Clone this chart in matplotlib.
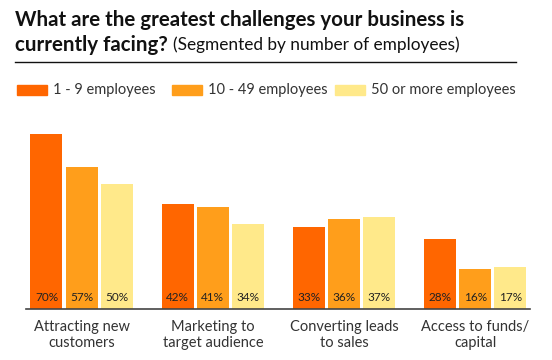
import matplotlib.pyplot as plt
from matplotlib.patches import Rectangle
import numpy as np

categories = ['Attracting new\ncustomers', 'Marketing to\ntarget audience',
              'Converting leads\nto sales', 'Access to funds/\ncapital']
series_names = ['1 - 9 employees', '10 - 49 employees', '50 or more employees']
small = [70, 42, 33, 28]
medium = [57, 41, 36, 16]
large = [50, 34, 37, 17]
colors = ['#FF6600', '#FF9E1B', '#FFE98A']

plt.rcParams['font.family'] = ['Lato', 'DejaVu Sans']

W, H = 552, 360
fig = plt.figure(figsize=(W / 100, H / 100), dpi=100)

def fx(px):
    return px / W

def fy(py):
    return 1 - py / H

# plot area: baseline at y=309, x from 26 to 530
ax = fig.add_axes([fx(26), fy(309), fx(530 - 26), (309 - 110) / H])
x = np.arange(len(categories))
w = 0.244
step = 0.267
for i, (vals, c) in enumerate(zip([small, medium, large], colors)):
    pos = x + (i - 1) * step
    ax.bar(pos, vals, width=w, color=c, label=series_names[i])
    for p, v in zip(pos, vals):
        ax.text(p, 4.6, f'{v}%', ha='center', va='center', fontsize=8.5,
                color='#222222')

ax.set_xlim(-0.423, 3.416)
ax.set_ylim(0, 199 / 2.5)
ax.set_yticks([])
ax.set_xticks(x)
ax.set_xticklabels(categories, fontsize=10.5, color='#333333', linespacing=1.15)
ax.tick_params(axis='x', length=0, pad=8)
for s in ['top', 'right', 'left']:
    ax.spines[s].set_visible(False)
ax.spines['bottom'].set_color('#444444')
ax.spines['bottom'].set_linewidth(1.2)

# title
fig.text(fx(15), fy(20), 'What are the greatest challenges your business is',
         fontsize=14.8, fontweight='bold', color='#111111', va='center')
fig.text(fx(15), fy(45), 'currently facing?', fontsize=14.8,
         fontweight='bold', color='#111111', va='center')
fig.text(fx(173), fy(45), '(Segmented by number of employees)', fontsize=12.4,
         color='#111111', va='center')
fig.add_artist(plt.Line2D([fx(15), fx(516)], [fy(62), fy(62)], color='#111111',
                          linewidth=1))

# legend
legend_x = [17, 172, 335]
for lx, name, c in zip(legend_x, series_names, colors):
    fig.add_artist(Rectangle((fx(lx), fy(95)), fx(30), 10 / H, color=c))
    fig.text(fx(lx + 36), fy(90), name, fontsize=10.5, color='#333333',
             va='center')

fig.savefig('out.png', dpi=100)
